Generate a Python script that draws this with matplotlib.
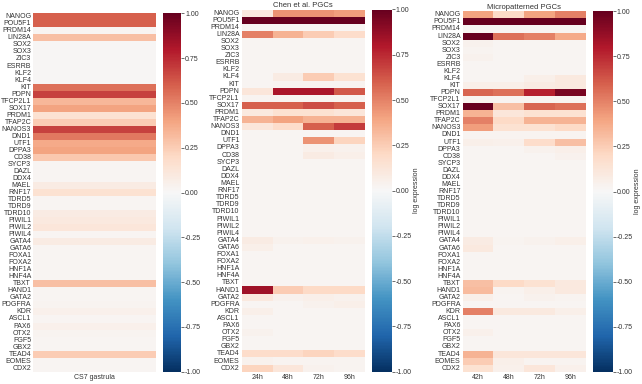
import matplotlib
matplotlib.use('Agg')
import matplotlib.pyplot as plt
import pandas as pd
import seaborn as sns

# gene panel (rows)
genes = ['NANOG', 'POU5F1', 'PRDM14', 'LIN28A', 'SOX2', 'SOX3', 'ZIC3', 'ESRRB',
         'KLF2', 'KLF4', 'KIT', 'PDPN', 'TFCP2L1', 'SOX17', 'PRDM1', 'TFAP2C',
         'NANOS3', 'DND1', 'UTF1', 'DPPA3', 'CD38', 'SYCP3', 'DAZL', 'DDX4',
         'MAEL', 'RNF17', 'TDRD5', 'TDRD9', 'TDRD10', 'PIWIL1', 'PIWIL2', 'PIWIL4',
         'GATA4', 'GATA6', 'FOXA1', 'FOXA2', 'HNF1A', 'HNF4A', 'TBXT', 'HAND1',
         'GATA2', 'PDGFRA', 'KDR', 'ASCL1', 'PAX6', 'OTX2', 'FGF5', 'GBX2',
         'TEAD4', 'EOMES', 'CDX2']

# CS7 gastrula (single column)
cs7_labels = ['CS7 gastrula']
cs7 = [0.60, 0.60, 0.02, 0.30, 0.01, 0.01, 0.01, 0.01,
       0.01, 0.01, 0.55, 0.68, 0.33, 0.40, 0.15, 0.25,
       0.68, 0.53, 0.38, 0.40, 0.27, 0.02, 0.02, 0.02,
       0.08, 0.15, 0.02, 0.02, 0.08, 0.10, 0.12, 0.02,
       0.08, 0.02, 0.02, 0.02, 0.02, 0.02, 0.30, 0.02,
       0.02, 0.03, 0.05, 0.02, 0.05, 0.03, 0.02, 0.02,
       0.25, 0.02, 0.02]

# Chen et al. PGCs
chen_labels = ['24h', '48h', '72h', '96h']
chen_24 = [0.10, 1.00, 0.02, 0.50, 0.02, 0.02, 0.02, 0.02,
           0.02, 0.02, 0.02, 0.12, 0.03, 0.60, 0.10, 0.35,
           0.12, 0.02, 0.02, 0.02, 0.02, 0.02, 0.02, 0.02,
           0.02, 0.02, 0.02, 0.02, 0.02, 0.02, 0.02, 0.02,
           0.08, 0.06, 0.02, 0.02, 0.02, 0.02, 0.02, 0.85,
           0.10, 0.02, 0.06, 0.02, 0.02, 0.04, 0.02, 0.02,
           0.18, 0.04, 0.22]
chen_48 = [0.45, 1.00, 0.02, 0.35, 0.02, 0.02, 0.02, 0.02,
           0.02, 0.08, 0.03, 0.82, 0.03, 0.60, 0.15, 0.40,
           0.18, 0.02, 0.02, 0.02, 0.02, 0.02, 0.02, 0.02,
           0.02, 0.02, 0.02, 0.02, 0.02, 0.02, 0.02, 0.02,
           0.04, 0.02, 0.02, 0.02, 0.02, 0.02, 0.02, 0.25,
           0.04, 0.02, 0.02, 0.02, 0.02, 0.02, 0.02, 0.02,
           0.18, 0.03, 0.12]
chen_72 = [0.45, 1.00, 0.02, 0.25, 0.02, 0.02, 0.02, 0.02,
           0.02, 0.25, 0.03, 0.82, 0.03, 0.65, 0.15, 0.35,
           0.60, 0.02, 0.45, 0.05, 0.08, 0.02, 0.02, 0.02,
           0.02, 0.02, 0.02, 0.02, 0.02, 0.02, 0.02, 0.02,
           0.05, 0.02, 0.02, 0.02, 0.02, 0.02, 0.02, 0.20,
           0.06, 0.04, 0.02, 0.02, 0.02, 0.02, 0.02, 0.02,
           0.22, 0.03, 0.04]
chen_96 = [0.42, 1.00, 0.02, 0.18, 0.02, 0.02, 0.02, 0.02,
           0.02, 0.15, 0.03, 0.62, 0.03, 0.60, 0.12, 0.35,
           0.70, 0.02, 0.22, 0.04, 0.06, 0.02, 0.02, 0.02,
           0.02, 0.02, 0.02, 0.02, 0.02, 0.02, 0.02, 0.02,
           0.04, 0.02, 0.02, 0.02, 0.02, 0.02, 0.02, 0.20,
           0.04, 0.06, 0.02, 0.02, 0.02, 0.02, 0.02, 0.02,
           0.18, 0.03, 0.03]

# Micropatterned PGCs
micro_labels = ['42h', '48h', '72h', '96h']
micro_42 = [0.40, 1.00, 0.02, 1.00, 0.04, 0.03, 0.04, 0.02,
            0.02, 0.02, 0.06, 0.58, 0.03, 1.00, 0.35, 0.50,
            0.42, 0.03, 0.06, 0.02, 0.02, 0.02, 0.02, 0.02,
            0.02, 0.02, 0.02, 0.02, 0.02, 0.02, 0.02, 0.02,
            0.08, 0.10, 0.02, 0.02, 0.02, 0.02, 0.30, 0.32,
            0.06, 0.02, 0.50, 0.02, 0.02, 0.05, 0.02, 0.02,
            0.35, 0.25, 0.15]
micro_48 = [0.20, 1.00, 0.02, 0.55, 0.02, 0.02, 0.02, 0.02,
            0.02, 0.02, 0.06, 0.55, 0.03, 0.30, 0.12, 0.20,
            0.15, 0.03, 0.05, 0.02, 0.02, 0.02, 0.02, 0.02,
            0.02, 0.02, 0.02, 0.02, 0.02, 0.02, 0.02, 0.02,
            0.03, 0.02, 0.02, 0.02, 0.02, 0.02, 0.20, 0.03,
            0.02, 0.02, 0.10, 0.02, 0.02, 0.02, 0.02, 0.02,
            0.12, 0.06, 0.05]
micro_72 = [0.40, 1.00, 0.02, 0.50, 0.02, 0.02, 0.02, 0.02,
            0.02, 0.06, 0.08, 0.78, 0.03, 0.58, 0.15, 0.35,
            0.15, 0.03, 0.18, 0.04, 0.02, 0.02, 0.02, 0.02,
            0.02, 0.02, 0.02, 0.02, 0.02, 0.02, 0.02, 0.02,
            0.04, 0.02, 0.02, 0.02, 0.02, 0.02, 0.15, 0.06,
            0.04, 0.02, 0.10, 0.02, 0.02, 0.02, 0.02, 0.02,
            0.12, 0.03, 0.12]
micro_96 = [0.50, 1.00, 0.02, 0.38, 0.02, 0.02, 0.02, 0.02,
            0.02, 0.10, 0.10, 0.95, 0.03, 0.55, 0.15, 0.35,
            0.20, 0.03, 0.30, 0.06, 0.04, 0.02, 0.02, 0.02,
            0.02, 0.02, 0.02, 0.02, 0.02, 0.02, 0.02, 0.02,
            0.06, 0.02, 0.02, 0.02, 0.02, 0.02, 0.10, 0.10,
            0.03, 0.02, 0.06, 0.02, 0.02, 0.02, 0.02, 0.02,
            0.12, 0.03, 0.05]

df_cs7 = pd.DataFrame({cs7_labels[0]: cs7}, index=genes)
df_chen = pd.DataFrame(dict(zip(chen_labels, [chen_24, chen_48, chen_72, chen_96])), index=genes)
df_micro = pd.DataFrame(dict(zip(micro_labels, [micro_42, micro_48, micro_72, micro_96])), index=genes)

sns.set_theme(style='white')
plt.rcParams['font.family'] = ['Liberation Sans', 'DejaVu Sans']
txt = '.2'

W, H = 642, 384
fig = plt.figure(figsize=(W / 100, H / 100), dpi=100)


def box(x0, x1, y0, y1):
    # pixel box -> figure fraction rect
    return [x0 / W, 1 - y1 / H, (x1 - x0) / W, (y1 - y0) / H]


panels = [
    (df_cs7, None, None, box(33.3, 156, 13.3, 371.7), box(163.3, 181, 13.3, 371.7)),
    (df_chen, 'Chen et al. PGCs', 'log expression', box(241.7, 365, 9.5, 371.7), box(372.3, 391.7, 9.5, 371.7)),
    (df_micro, 'Micropatterned PGCs', 'log expression', box(462.7, 585.7, 11.3, 371.7), box(593.3, 612.7, 11.3, 371.7)),
]

for df, title, clabel, rect, crect in panels:
    ax = fig.add_axes(rect)
    cax = fig.add_axes(crect)
    sns.heatmap(df, ax=ax, cbar_ax=cax, cmap='RdBu_r', vmin=-1, vmax=1,
                yticklabels=genes, xticklabels=list(df.columns),
                cbar_kws={'ticks': [-1, -0.75, -0.5, -0.25, 0, 0.25, 0.5, 0.75, 1],
                          'format': '%.2f'})
    ax.tick_params(axis='both', length=0, labelsize=5, colors=txt, pad=1.5)
    ax.set_yticklabels(genes, rotation=0)
    ax.set_xticklabels(list(df.columns), rotation=0)
    if title:
        ax.set_title(title, fontsize=5.5, color=txt, pad=2)
    cax.tick_params(axis='y', length=2, width=0.5, labelsize=5, colors=txt, pad=1)
    cax.yaxis.set_tick_params(right=True)
    if clabel:
        cax.set_ylabel(clabel, fontsize=5, color=txt, labelpad=1)

fig.savefig('out.png', dpi=100)
